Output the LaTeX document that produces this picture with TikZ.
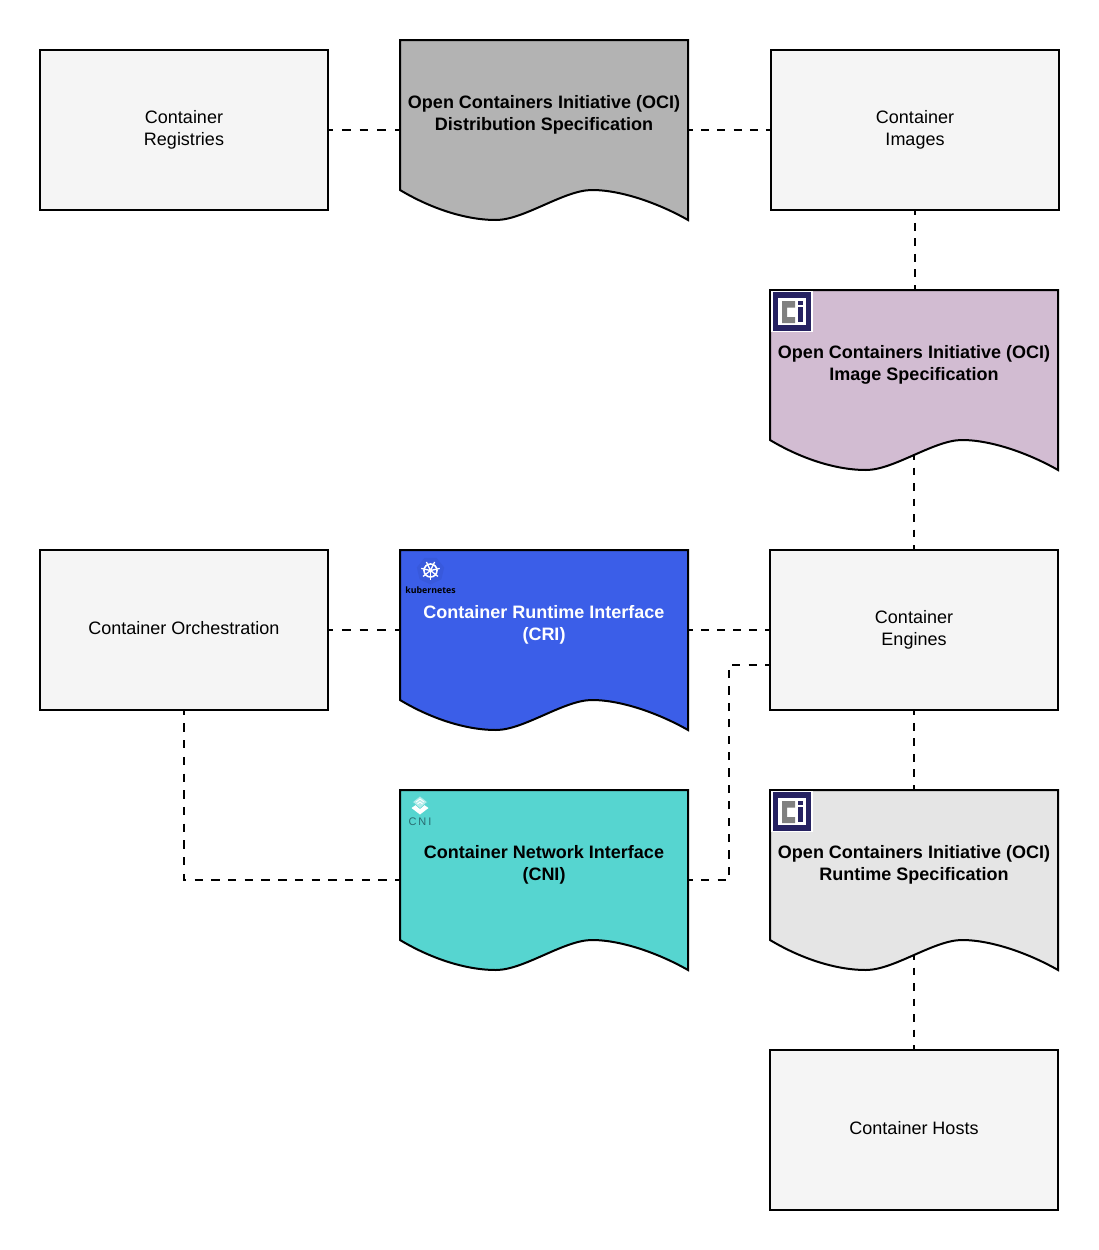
\documentclass[tikz,border=0pt]{standalone}
\usepackage{fontspec}
\setmainfont{Liberation Sans}
\newfontfamily\logofont{Open Sans}
\usetikzlibrary{calc}
\definecolor{boxfill}{HTML}{F5F5F5}
\definecolor{distfill}{HTML}{B3B3B3}
\definecolor{imgfill}{HTML}{D2BCD2}
\definecolor{crifill}{HTML}{3B5EE8}
\definecolor{cnifill}{HTML}{56D5D0}
\definecolor{runfill}{HTML}{E5E5E5}
\definecolor{ocinavy}{HTML}{262261}
\definecolor{ocigray}{HTML}{808080}
\definecolor{cnitext}{HTML}{2A6A70}
\tikzset{
  every node/.style={font=\fontsize{18}{21.5}\selectfont,align=center,inner sep=0pt,outer sep=0pt},
  plainbox/.style={draw=black,line width=2pt,fill=boxfill,minimum width=288pt,minimum height=160pt},
  docframe/.style={draw=black,line width=2pt,line join=miter},
  docanchor/.style={minimum width=288pt,minimum height=180pt},
  doctext/.style={font=\fontsize{18}{21.5}\selectfont\bfseries},
  link/.style 2 args={draw=black,line width=2pt,dash pattern=on #1pt off #1pt,dash phase=#2pt},
}
\newcommand{\docshape}[4]{%
  \begin{scope}[shift={(#2,#3)}]
    \draw[docframe,fill=#4] (0,0) -- (288,0) -- (288,180)
      .. controls (260,164) and (222,150) .. (192,150)
      .. controls (164,150) and (124,180) .. (96,180)
      .. controls (65,180) and (30,168) .. (0,150) -- cycle;
    \node[docanchor] (#1) at (144,90) {};
    \coordinate (#1wave) at (144,165);
  \end{scope}}
\newcommand{\ocilogo}[3]{%
  \begin{scope}[shift={(#2,#3)}]
    \fill[white] (0,0) rectangle (42,41);
    \fill[ocinavy] (2,1) rectangle (40,39.5);
    \fill[white] (7,7) rectangle (35,34);
    \fill[ocigray] (11,10) -- (24,10) -- (24,16.5) -- (16,16.5) -- (16,26) -- (24,26) -- (24,32) -- (11,32) -- cycle;
    \fill[ocinavy] (27,10) rectangle (32,14);
    \fill[ocinavy] (27,16) rectangle (32,31);
    \coordinate (#1) at (21,21);
  \end{scope}}
\begin{document}
\begin{tikzpicture}[x=1pt,y=-1pt]
\useasboundingbox (0,0) rectangle (1099,1250);

\docshape{dist}{400}{40}{distfill}
\docshape{spec}{770}{290}{imgfill}
\docshape{cri}{400}{550}{crifill}
\docshape{cni}{400}{790}{cnifill}
\docshape{run}{770}{790}{runfill}

\node[plainbox] (reg) at (184,130) {};
\node[plainbox] (imgs) at (915,130) {};
\node[plainbox] (orch) at (184,630) {};
\node[plainbox] (eng) at (914,630) {};
\node[plainbox] (hosts) at (914,1130) {};

\node (regt) at (184,130) {Container\\Registries};
\node (imgst) at (915,130) {Container\\Images};
\node (orcht) at (184,628) {Container Orchestration};
\node (engt) at (914,630) {Container\\Engines};
\node (hostst) at (914,1128) {Container Hosts};

\node[doctext] (distt) at (544,115) {Open Containers Initiative (OCI)\\Distribution Specification};
\node[doctext] (spect) at (914,365) {Open Containers Initiative (OCI)\\Image Specification};
\node[doctext,text=white] (crit) at (544,625) {Container Runtime Interface\\(CRI)};
\node[doctext] (cnit) at (544,865) {Container Network Interface\\(CNI)};
\node[doctext] (runt) at (914,865) {Open Containers Initiative (OCI)\\Runtime Specification};

\draw[link={8.86}{3.86}] (reg.east) -- (reg.east -| dist.west);
\draw[link={8.11}{3.11}] (dist.east) -- (dist.east -| imgs.west);
\draw[link={7.78}{2.78}] (imgs.south) -- (imgs.south |- spec.north);
\draw[link={7.73}{2.73}] (specwave) -- (eng.north);
\draw[link={8.86}{3.86}] (orch.east) -- (orch.east -| cri.west);
\draw[link={8}{3}] (orch.east -| cri.east) -- (eng.west);
\draw[link={7.78}{2.78}] (eng.south) -- (run.north);
\draw[link={7.73}{2.73}] (runwave) -- (hosts.north);
\draw[link={8.36}{3.36}] (orch.south) |- (cni.west);
\coordinate (engport) at (770,665);
\coordinate (cnibend) at (729,880);
\draw[link={8.2}{3.2}] (cni.east) -- (cnibend) -- (cnibend |- engport) -- (engport);

\ocilogo{ocia}{771}{291}
\ocilogo{ocib}{771}{791}

% kubernetes logo
\begin{scope}[shift={(430.5,570.5)}]
  \fill[crifill!95!black] (90:14) -- (38.6:14) -- (-12.9:14) -- (-64.3:14) -- (-115.7:14) -- (-167.1:14) -- (141.4:14) -- cycle;
  \draw[white,line width=1.6pt] (0,0) circle (6.5);
  \foreach \a in {90,38.6,-12.9,-64.3,-115.7,-167.1,141.4}
    \draw[white,line width=1.3pt] (0,0) -- (\a:9.5);
  \fill[white] (0,0) circle (2);
\end{scope}
\node[font=\logofont\fontsize{8.8}{10}\selectfont\bfseries,text=black] (k8s) at (430.5,590) {kubernetes};

% CNI logo
\begin{scope}[shift={(420,804)}]
  \fill[white] (0,-2) -- (8.5,4) -- (0,10.5) -- (-8.5,4) -- cycle;
  \fill[white!55!cnifill,draw=cnifill,line width=.5pt] (0,-8) -- (7.5,-2) -- (0,4.5) -- (-7.5,-2) -- cycle;
  \draw[white,line width=.9pt] (-4,-2) -- (0,-5) -- (4,-2);
  \draw[white,line width=.9pt] (-2.5,0) -- (0,-2) -- (2.5,0);
\end{scope}
\node[font=\fontsize{11}{12}\selectfont,text=cnitext] (cnilogo) at (420,822) {C\kern2ptN\kern2ptI};
\end{tikzpicture}
\end{document}
